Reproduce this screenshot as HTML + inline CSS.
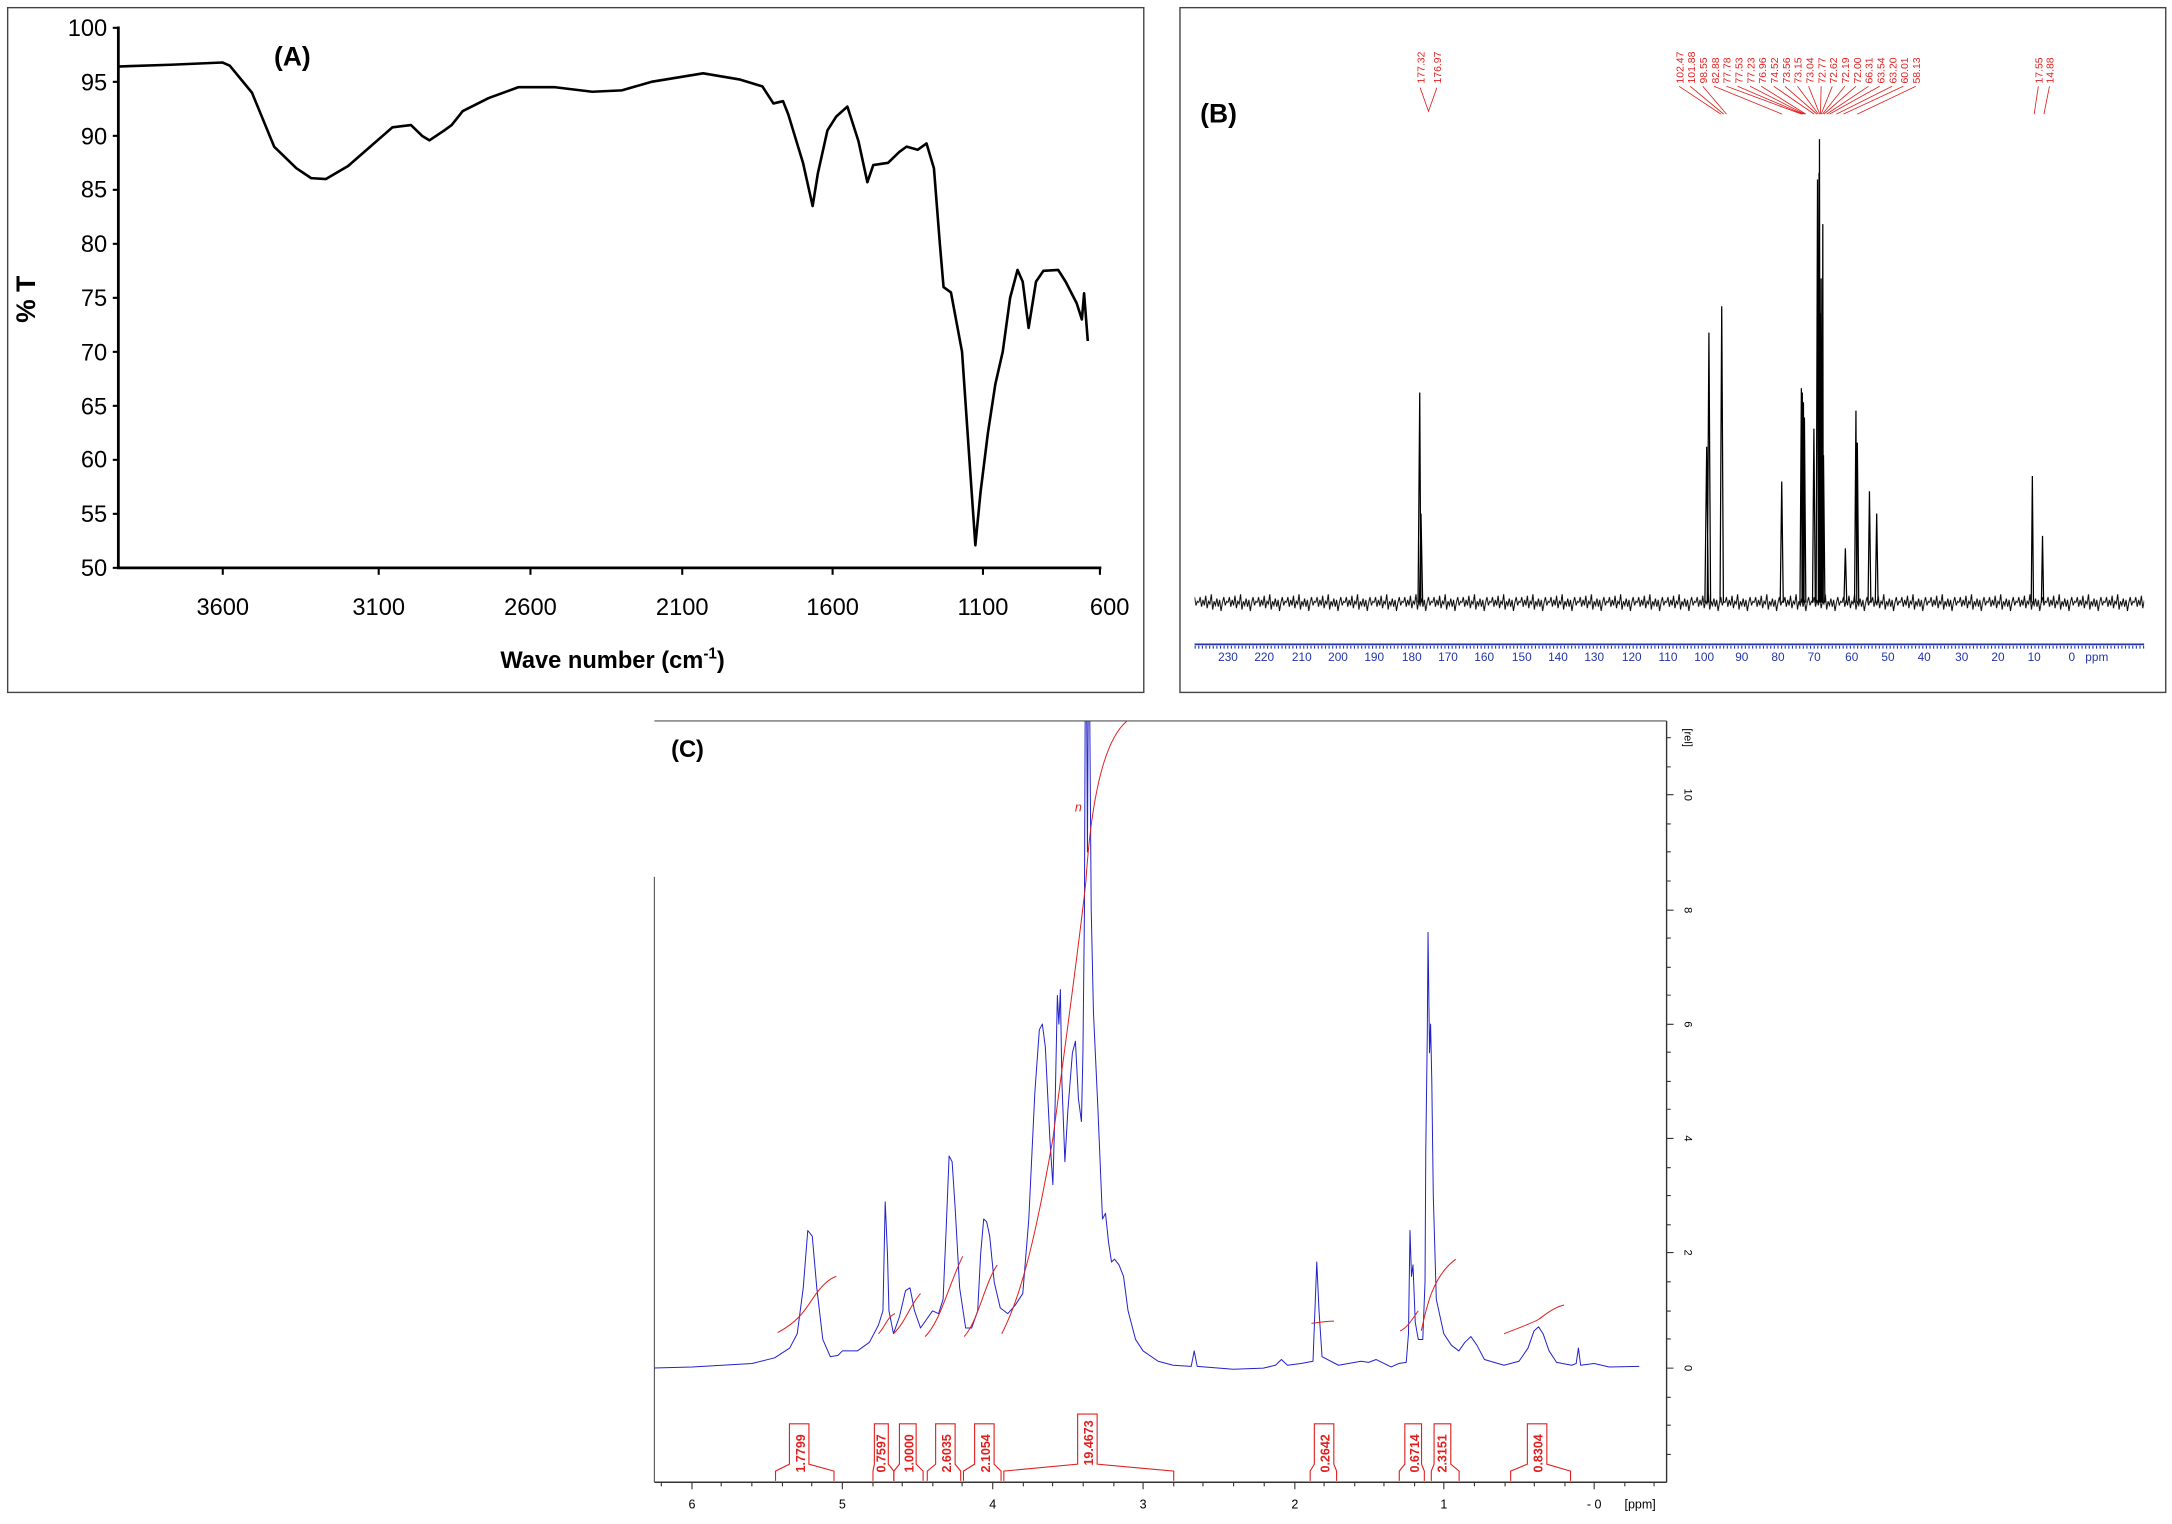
<!DOCTYPE html>
<html><head><meta charset="utf-8"><style>
html,body{margin:0;padding:0;background:#fff;}
svg{display:block;}
text{font-family:"Liberation Sans",sans-serif;}
</style></head><body>
<svg width="2172" height="1524" viewBox="0 0 1560 1095" preserveAspectRatio="none" xmlns="http://www.w3.org/2000/svg">
<defs>
<pattern id="nz" x="0" y="423" width="21" height="20" patternUnits="userSpaceOnUse">
<path d="M0,10 L1,6 L2,13 L3,8 L4,12 L5,5 L6,14 L7,9 L8,11 L9,4 L10,15 L11,9 L12,12 L13,7 L14,13 L15,8 L16,16 L17,10 L18,6 L19,12 L20,9 L21,10" fill="none" stroke="#000" stroke-width="0.7"/>
</pattern>
<clipPath id="cc"><rect x="470" y="518" width="727" height="547"/></clipPath>
</defs>

<!-- Panel A -->
<rect x="5.5" y="5.5" width="816" height="492" fill="none" stroke="#444" stroke-width="1"/>
<line x1="85" y1="19" x2="85" y2="408" stroke="#000" stroke-width="2"/>
<line x1="84" y1="408" x2="791" y2="408" stroke="#000" stroke-width="2"/>
<g stroke="#000" stroke-width="1.5">
<line x1="81" y1="20" x2="85" y2="20"/><line x1="81" y1="58.8" x2="85" y2="58.8"/><line x1="81" y1="97.6" x2="85" y2="97.6"/><line x1="81" y1="136.4" x2="85" y2="136.4"/><line x1="81" y1="175.2" x2="85" y2="175.2"/><line x1="81" y1="214" x2="85" y2="214"/><line x1="81" y1="252.8" x2="85" y2="252.8"/><line x1="81" y1="291.6" x2="85" y2="291.6"/><line x1="81" y1="330.4" x2="85" y2="330.4"/><line x1="81" y1="369.2" x2="85" y2="369.2"/><line x1="81" y1="408" x2="85" y2="408"/>
<line x1="160" y1="408" x2="160" y2="413"/><line x1="272" y1="408" x2="272" y2="413"/><line x1="381" y1="408" x2="381" y2="413"/><line x1="490" y1="408" x2="490" y2="413"/><line x1="598" y1="408" x2="598" y2="413"/><line x1="706" y1="408" x2="706" y2="413"/><line x1="790" y1="408" x2="790" y2="413"/>
</g>
<g font-size="17" text-anchor="end" fill="#000">
<text x="77" y="26">100</text><text x="77" y="65">95</text><text x="77" y="104">90</text><text x="77" y="142">85</text><text x="77" y="181">80</text><text x="77" y="220">75</text><text x="77" y="259">70</text><text x="77" y="298">65</text><text x="77" y="336">60</text><text x="77" y="375">55</text><text x="77" y="414">50</text>
</g>
<g font-size="17" text-anchor="middle" fill="#000">
<text x="160" y="442">3600</text><text x="272" y="442">3100</text><text x="381" y="442">2600</text><text x="490" y="442">2100</text><text x="598" y="442">1600</text><text x="706" y="442">1100</text><text x="797" y="442">600</text>
</g>
<text x="210" y="47" font-size="19" font-weight="bold" text-anchor="middle">(A)</text>
<text transform="translate(25,215) rotate(-90)" font-size="19" font-weight="bold" text-anchor="middle">% T</text>
<text x="440" y="480" font-size="17" font-weight="bold" text-anchor="middle">Wave number (cm<tspan font-size="11" dy="-7">-1</tspan><tspan dy="7">)</tspan></text>
<g transform="matrix(0.973,0,0,1,12,0)">
<g transform="matrix(0.546,0,0,0.3233,-11.99,-1.98)">
<polyline fill="none" stroke="#000" stroke-width="2.6" vector-effect="non-scaling-stroke" stroke-linejoin="round" points="158,154 230,150 300,145 310,152 340,212 370,332 400,380 420,402 440,404 470,375 500,332 530,289 555,284 570,308 580,318 600,296 610,284 625,253 660,224 700,200 750,200 800,210 840,207 880,188 950,169 1000,183 1030,198 1045,236 1058,231 1065,260 1085,368 1098,464 1105,392 1118,296 1130,265 1145,243 1160,320 1172,411 1180,373 1200,368 1215,344 1225,332 1240,339 1252,325 1262,380 1270,548 1275,644 1285,656 1300,788 1310,1028 1318,1218 1325,1100 1335,968 1345,860 1355,788 1365,668 1375,606 1382,632 1390,735 1400,632 1410,608 1430,606 1440,632 1455,680 1462,716 1465,658 1470,764"/>
</g>
</g>

<!-- Panel B -->
<rect x="847.5" y="5.5" width="708" height="492" fill="none" stroke="#444" stroke-width="1"/>
<text x="862" y="88" font-size="19" font-weight="bold">(B)</text>
<rect x="858" y="423" width="682" height="20" fill="url(#nz)"/>
<g fill="none" stroke="#000" stroke-width="0.9" transform="translate(-6,0)">
<path d="M1024.5,433 L1025.7,282 L1026.5,433 M1025.5,433 L1026.6,369 L1027.8,433"/>
<path d="M1230.5,433 L1231.8,321 L1233,433 M1232.2,433 L1233.4,239 L1234.6,433"/>
<path d="M1241.4,433 L1242.6,220 L1243.8,433"/>
<path d="M1284.6,433 L1285.7,346 L1286.8,433"/>
<path d="M1298.8,433 L1299.8,279 L1300.3,433 L1300.5,282 L1300.9,433 L1301.3,289 L1301.7,433 L1302,300 L1303,433"/>
<path d="M1307.8,433 L1308.8,308 L1309.8,433"/>
<path d="M1310.4,433 L1311.4,129 L1312,433 L1312.5,124 L1312.7,433 L1312.8,100 L1313.3,433 L1313.6,225 L1313.9,433 L1314,200 L1314.6,433 L1315.2,161 L1315.5,433 L1315.7,327 L1316.7,433"/>
<path d="M1330.4,433 L1331.4,394 L1332.4,433"/>
<path d="M1338,433 L1339,295 L1339.6,433 L1340,318 L1341,433"/>
<path d="M1347.7,433 L1348.7,353 L1349.7,433"/>
<path d="M1352.9,433 L1353.9,369 L1354.9,433"/>
<path d="M1464.9,433 L1465.7,342 L1466.5,433"/>
<path d="M1472.2,433 L1473,385 L1473.8,433"/>
</g>
<line x1="858" y1="463" x2="1540" y2="463" stroke="#2233aa" stroke-width="1.2"/>
<line x1="858" y1="465" x2="1540" y2="465" stroke="#2233aa" stroke-width="2" stroke-dasharray="0.8,1.8"/>
<g fill="#2233aa" font-size="8.5" text-anchor="middle">
<text x="882" y="475">230</text><text x="908" y="475">220</text><text x="935" y="475">210</text><text x="961" y="475">200</text><text x="987" y="475">190</text><text x="1014" y="475">180</text><text x="1040" y="475">170</text><text x="1066" y="475">160</text><text x="1093" y="475">150</text><text x="1119" y="475">140</text><text x="1145" y="475">130</text><text x="1172" y="475">120</text><text x="1198" y="475">110</text><text x="1224" y="475">100</text><text x="1251" y="475">90</text><text x="1277" y="475">80</text><text x="1303" y="475">70</text><text x="1330" y="475">60</text><text x="1356" y="475">50</text><text x="1382" y="475">40</text><text x="1409" y="475">30</text><text x="1435" y="475">20</text><text x="1461" y="475">10</text><text x="1488" y="475">0</text><text x="1506" y="475">ppm</text>
</g>
<g fill="#e02020" font-size="7.5">
<text transform="translate(1023,60) rotate(-90)">177.32</text>
<text transform="translate(1035,60) rotate(-90)">176.97</text>
<text transform="translate(1209,60) rotate(-90)">102.47</text>
<text transform="translate(1217.5,60) rotate(-90)">101.88</text>
<text transform="translate(1226,60) rotate(-90)">98.55</text>
<text transform="translate(1234.5,60) rotate(-90)">82.88</text>
<text transform="translate(1243,60) rotate(-90)">77.78</text>
<text transform="translate(1251.5,60) rotate(-90)">77.53</text>
<text transform="translate(1260,60) rotate(-90)">77.23</text>
<text transform="translate(1268.5,60) rotate(-90)">76.96</text>
<text transform="translate(1277,60) rotate(-90)">74.52</text>
<text transform="translate(1285.5,60) rotate(-90)">73.56</text>
<text transform="translate(1294,60) rotate(-90)">73.15</text>
<text transform="translate(1302.5,60) rotate(-90)">73.04</text>
<text transform="translate(1311,60) rotate(-90)">72.77</text>
<text transform="translate(1319.5,60) rotate(-90)">72.62</text>
<text transform="translate(1328,60) rotate(-90)">72.19</text>
<text transform="translate(1336.5,60) rotate(-90)">72.00</text>
<text transform="translate(1345,60) rotate(-90)">66.31</text>
<text transform="translate(1353.5,60) rotate(-90)">63.54</text>
<text transform="translate(1362,60) rotate(-90)">63.20</text>
<text transform="translate(1370.5,60) rotate(-90)">60.01</text>
<text transform="translate(1379,60) rotate(-90)">58.13</text>
<text transform="translate(1467,60) rotate(-90)">17.55</text>
<text transform="translate(1475,60) rotate(-90)">14.88</text>
</g>
<g fill="none" stroke="#e02020" stroke-width="0.6">
<path d="M1020,63 L1026,80 L1032,63"/>
<path d="M1206,62 L1236,82 M1214,62 L1238,82 M1223,62 L1240,82 M1231,62 L1280,82 M1240,62 L1294,82 M1248,62 L1295,82 M1257,62 L1296,82 M1265,62 L1297,82 M1274,62 L1303,82 M1282,62 L1305,82 M1291,62 L1306,82 M1299,62 L1307,82 M1308,62 L1307.5,82 M1316,62 L1308,82 M1325,62 L1309,82 M1333,62 L1310,82 M1342,62 L1312,82 M1350,62 L1314,82 M1359,62 L1319,82 M1367,62 L1324,82 M1376,62 L1334,82"/>
<path d="M1464,62 L1461,82 M1472,62 L1468,82"/>
</g>

<!-- Panel C -->
<line x1="470" y1="518" x2="1197" y2="518" stroke="#555" stroke-width="0.8"/>
<line x1="470" y1="630" x2="470" y2="1065" stroke="#555" stroke-width="0.8"/>
<line x1="1197" y1="518" x2="1197" y2="1065" stroke="#333" stroke-width="1"/>
<line x1="470" y1="1065" x2="1197" y2="1065" stroke="#333" stroke-width="1"/>
<text x="482" y="544" font-size="17" font-weight="bold">(C)</text>
<g stroke="#333" stroke-width="0.8">
<path d="M1197,983 h5 M1197,962 h3 M1197,942 h3 M1197,921 h3 M1197,900 h5 M1197,880 h3 M1197,859 h3 M1197,839 h3 M1197,818 h5 M1197,797 h3 M1197,777 h3 M1197,756 h3 M1197,736 h5 M1197,715 h3 M1197,695 h3 M1197,674 h3 M1197,654 h5 M1197,633 h3 M1197,612 h3 M1197,592 h3 M1197,571 h5 M1197,551 h3 M1197,530 h3 M1197,1004 h3 M1197,1024 h3 M1197,1045 h3"/>
<path d="M497,1065 v5 M518,1065 v3 M540,1065 v3 M562,1065 v3 M583,1065 v3 M605,1065 v5 M627,1065 v3 M648,1065 v3 M670,1065 v3 M691,1065 v3 M713,1065 v5 M735,1065 v3 M756,1065 v3 M778,1065 v3 M800,1065 v3 M821,1065 v5 M843,1065 v3 M864,1065 v3 M886,1065 v3 M908,1065 v3 M930,1065 v5 M951,1065 v3 M973,1065 v3 M994,1065 v3 M1016,1065 v3 M1037,1065 v5 M1059,1065 v3 M1081,1065 v3 M1102,1065 v3 M1124,1065 v3 M1145,1065 v5 M1167,1065 v3 M1188,1065 v3 M475,1065 v3"/>
</g>
<g font-size="9" text-anchor="middle" fill="#000">
<text x="497" y="1084">6</text><text x="605" y="1084">5</text><text x="713" y="1084">4</text><text x="821" y="1084">3</text><text x="930" y="1084">2</text><text x="1037" y="1084">1</text><text x="1145" y="1084">- 0</text><text x="1178" y="1084">[ppm]</text>
</g>
<g font-size="8" fill="#000" text-anchor="middle">
<text transform="translate(1210,983) rotate(90)">0</text><text transform="translate(1210,900) rotate(90)">2</text><text transform="translate(1210,818) rotate(90)">4</text><text transform="translate(1210,736) rotate(90)">6</text><text transform="translate(1210,654) rotate(90)">8</text><text transform="translate(1210,571) rotate(90)">10</text><text transform="translate(1210,530) rotate(90)">[rel]</text>
</g>
<g clip-path="url(#cc)">
<g transform="matrix(-108,0,0,-41.2,1145,983)">
<polyline fill="none" stroke="#2222cc" stroke-width="1" vector-effect="non-scaling-stroke" stroke-linejoin="round" points="6.3,0 6,0.02 5.8,0.05 5.6,0.08 5.45,0.18 5.35,0.35 5.3,0.6 5.26,1.4 5.23,2.4 5.2,2.3 5.17,1.4 5.13,0.5 5.08,0.2 5.03,0.22 5.0,0.3 4.9,0.3 4.82,0.45 4.76,0.75 4.73,1.0 4.715,2.9 4.7,2.0 4.69,1.0 4.66,0.6 4.62,0.9 4.58,1.35 4.55,1.4 4.52,1.0 4.48,0.7 4.44,0.85 4.4,1.0 4.36,0.95 4.33,1.2 4.31,2.4 4.29,3.7 4.27,3.6 4.25,2.8 4.22,1.4 4.18,0.7 4.14,0.7 4.1,1.0 4.08,2.0 4.06,2.6 4.04,2.55 4.02,2.3 3.99,1.5 3.95,1.05 3.9,0.95 3.85,1.1 3.8,1.3 3.76,2.6 3.72,4.8 3.69,5.9 3.67,6.0 3.65,5.6 3.62,4.0 3.6,3.2 3.585,4.6 3.57,6.5 3.56,6.0 3.55,6.6 3.54,5.0 3.52,3.6 3.5,4.5 3.47,5.5 3.45,5.7 3.43,4.7 3.41,4.3 3.4,5.5 3.39,8 3.385,11.5 3.375,11.5 3.37,9 3.365,11.5 3.355,11.5 3.345,8 3.33,6.2 3.3,4.5 3.27,2.6 3.25,2.7 3.23,2.2 3.21,1.85 3.19,1.9 3.16,1.8 3.13,1.6 3.1,1.0 3.05,0.5 3.0,0.3 2.9,0.12 2.8,0.05 2.68,0.03 2.66,0.3 2.64,0.03 2.4,-0.02 2.2,0 2.12,0.05 2.08,0.15 2.04,0.05 1.95,0.08 1.87,0.12 1.845,1.85 1.83,1.0 1.81,0.2 1.7,0.05 1.55,0.12 1.5,0.1 1.45,0.15 1.35,0.02 1.3,0.08 1.25,0.1 1.235,0.6 1.225,2.4 1.215,1.6 1.205,1.8 1.19,0.8 1.17,0.5 1.14,0.5 1.125,1.5 1.12,3.8 1.11,5.8 1.105,7.6 1.095,5.5 1.088,6.0 1.08,5.0 1.07,3.0 1.05,1.2 1.0,0.6 0.95,0.4 0.9,0.3 0.86,0.45 0.82,0.55 0.78,0.4 0.73,0.15 0.6,0.05 0.5,0.12 0.44,0.35 0.4,0.65 0.37,0.72 0.34,0.6 0.3,0.3 0.25,0.1 0.15,0.05 0.12,0.08 0.105,0.35 0.09,0.05 0.0,0.08 -0.1,0.02 -0.3,0.03"/>
<g fill="none" stroke="#e02020" stroke-width="1">
<path d="M5.43,0.62 C5.3,0.8 5.25,1.0 5.2,1.2 S5.1,1.55 5.04,1.6" vector-effect="non-scaling-stroke"/>
<path d="M4.76,0.6 C4.72,0.7 4.7,0.9 4.65,0.95" vector-effect="non-scaling-stroke"/>
<path d="M4.66,0.6 C4.58,0.8 4.55,1.1 4.48,1.3" vector-effect="non-scaling-stroke"/>
<path d="M4.45,0.55 C4.35,0.8 4.3,1.4 4.2,1.95" vector-effect="non-scaling-stroke"/>
<path d="M4.19,0.55 C4.1,0.8 4.05,1.5 3.97,1.8" vector-effect="non-scaling-stroke"/>
<path d="M3.94,0.6 C3.8,1.3 3.7,2.5 3.6,4 C3.5,6 3.42,7.5 3.38,8.5 C3.33,10.5 3.2,11.1 3.1,11.3 C3.0,11.45 2.9,11.45 2.78,11.5" vector-effect="non-scaling-stroke"/>
<path d="M1.88,0.78 C1.83,0.8 1.78,0.82 1.73,0.82" vector-effect="non-scaling-stroke"/>
<path d="M1.29,0.65 C1.24,0.7 1.2,0.9 1.17,1.0" vector-effect="non-scaling-stroke"/>
<path d="M1.15,0.65 C1.12,1.0 1.08,1.6 0.92,1.9" vector-effect="non-scaling-stroke"/>
<path d="M0.6,0.6 C0.5,0.7 0.4,0.8 0.37,0.85 S0.28,1.05 0.2,1.1" vector-effect="non-scaling-stroke"/>
</g>
</g>
</g>
<text x="772" y="583" font-size="9" fill="#e02020" font-style="italic">n</text>
<g fill="none" stroke="#e02020" stroke-width="0.8">
<path d="M557,1064 L557,1057 L567,1052 L567,1023 L581,1023 L581,1052 L599,1057 L599,1064"/>
<path d="M627,1064 L627,1057 L628,1052 L628,1023 L638,1023 L638,1052 L642,1057 L642,1064"/>
<path d="M642,1064 L642,1057 L646,1052 L646,1023 L658,1023 L658,1052 L663,1057 L663,1064"/>
<path d="M666,1064 L666,1057 L672,1052 L672,1023 L686,1023 L686,1052 L690,1057 L690,1064"/>
<path d="M692,1064 L692,1057 L700,1052 L700,1023 L714,1023 L714,1052 L719,1057 L719,1064"/>
<path d="M721,1064 L721,1057 L774,1052 L774,1016 L788,1016 L788,1052 L843,1057 L843,1064"/>
<path d="M941,1064 L941,1057 L944,1052 L944,1023 L958,1023 L958,1052 L960,1057 L960,1064"/>
<path d="M1005,1064 L1005,1057 L1009,1052 L1009,1023 L1021,1023 L1021,1052 L1023,1057 L1023,1064"/>
<path d="M1028,1064 L1028,1057 L1030,1052 L1030,1023 L1042,1023 L1042,1052 L1048,1057 L1048,1064"/>
<path d="M1085,1064 L1085,1057 L1097,1052 L1097,1023 L1111,1023 L1111,1052 L1128,1057 L1128,1064"/>
</g>
<g fill="#e02020" font-size="9" font-weight="bold">
<text transform="translate(578,1058) rotate(-90)">1.7799</text>
<text transform="translate(636,1058) rotate(-90)">0.7597</text>
<text transform="translate(656,1058) rotate(-90)">1.0000</text>
<text transform="translate(683,1058) rotate(-90)">2.6035</text>
<text transform="translate(711,1058) rotate(-90)">2.1054</text>
<text transform="translate(785,1053) rotate(-90)">19.4673</text>
<text transform="translate(955,1058) rotate(-90)">0.2642</text>
<text transform="translate(1019,1058) rotate(-90)">0.6714</text>
<text transform="translate(1039,1058) rotate(-90)">2.3151</text>
<text transform="translate(1108,1058) rotate(-90)">0.8304</text>
</g>
</svg>
</body></html>
